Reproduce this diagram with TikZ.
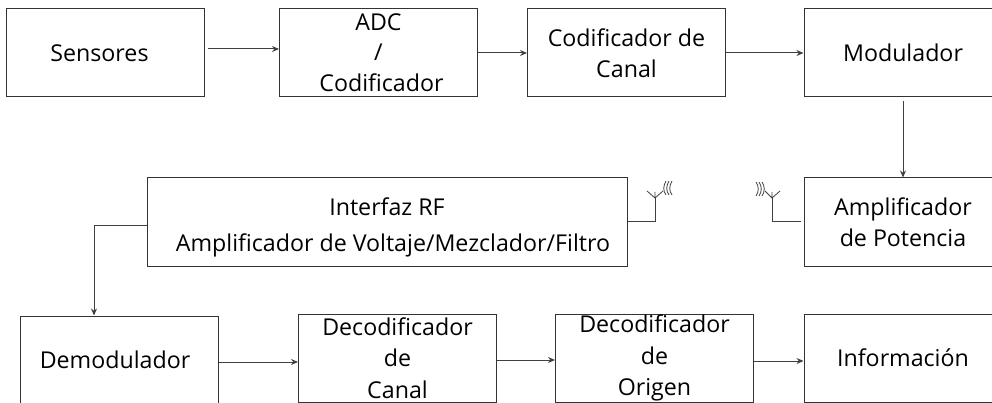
\documentclass[tikz,border=0pt]{standalone}
\usepackage{fontspec}
\setmainfont{Open Sans}
\usepackage{tikz}
\usetikzlibrary{arrows.meta}

\begin{document}
\begin{tikzpicture}
  [x=1pt, y=-1pt,
   block/.style={draw=black!80, line width=1pt, minimum width=198pt, minimum height=88pt,
     inner sep=0pt, align=center, font=\fontsize{23.2}{31.5}\selectfont, text=black},
   wire/.style={draw=black!75, line width=1pt},
   arrow/.style={wire, -{Stealth[length=7pt, width=6pt]}},
   wave/.style={draw=black!75, line width=0.8pt}]
  \useasboundingbox (0, 0) rectangle (992, 403);
  \clip (0, 0) rectangle (992, 403);
  \node[block] (sensores) at (105.5, 53) {\hspace*{-12pt}Sensores};
  \node[block] (adc) at (378.5, 53) {\raisebox{-2pt}{ADC}\\/\\\hspace*{6pt}Codificador};
  \node[block] (canal) at (626.5, 53) {Codificador de\\Canal};
  \node[block] (modulador) at (903, 53) {Modulador};
  \node[block, minimum width=480pt] (interfaz) at (387, 222)
    {\rule{0pt}{29pt}Interfaz RF\\[4pt]\hspace*{12pt}Amplificador de Voltaje/Mezclador/Filtro};
  \node[block] (potencia) at (903, 222) {Amplificador\\de Potencia};
  \node[block] (demodulador) at (119.5, 360) {\hspace*{-9pt}Demodulador};
  \node[block] (decanal) at (397.5, 358) {Decodificador\\de\\Canal};
  \node[block] (origen) at (654.5, 358) {Decodificador\\de\\Origen};
  \node[block] (informacion) at (903, 358) {Información};
  \draw[arrow, shorten <=3pt] ([yshift=4pt]sensores.east) -- ([yshift=4pt]adc.west);
  \draw[arrow] (adc) -- (canal);
  \draw[arrow] (canal) -- (modulador);
  \draw[arrow, shorten <=4pt] (modulador) -- (potencia);
  \coordinate (codo) at (94, 226);
  \draw[arrow] ([yshift=-4pt]interfaz.west) -- (codo) -- (codo |- demodulador.north);
  \draw[arrow] ([yshift=-2pt]demodulador.east) -- ([yshift=-2pt]decanal.west |- demodulador.east);
  \draw[arrow] ([yshift=-2pt]decanal.east) -- ([yshift=-2pt]origen.west);
  \draw[arrow] ([yshift=-3pt]origen.east) -- ([yshift=-3pt]informacion.west);
  % antenas
  \coordinate (antL) at (655, 198);
  \coordinate (antR) at (772, 198);
  \draw[wire] (interfaz.east) -- (antL |- interfaz.east) -- (antL);
  \draw[wire, shorten <=3pt] (potencia.west) -- (antR |- potencia.west) -- (antR);
  \draw[wave] (647, 191) -- (antL) -- (663, 191) (antL) -- (655, 192);
  \draw[wave] (765, 191) -- (antR) -- (780, 191) (antR) -- (772, 192);
  \foreach \d in {0, 3, 6} {
    \draw[wave] (666+\d, 181) .. controls (663+\d, 186) and (663+\d, 191) .. (666+\d, 195);
    \draw[wave] (756+\d, 182) .. controls (759+\d, 186) and (759+\d, 192) .. (756+\d, 196);
  }
\end{tikzpicture}
\end{document}
